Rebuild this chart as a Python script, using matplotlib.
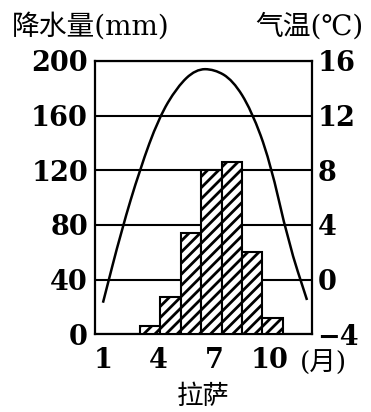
import numpy as np
import matplotlib.pyplot as plt
from matplotlib.path import Path
from matplotlib.patches import PathPatch

plt.rcParams['font.family'] = ['DejaVu Serif', 'Noto Sans CJK SC']
plt.rcParams['hatch.linewidth'] = 2.0

# 拉萨 气温 (℃), 1-12月
months = [1, 2, 3, 4, 5, 6, 7, 8, 9, 10, 11, 12]
temp = [-1.7, 3.6, 8.1, 11.8, 14.1, 15.4, 15.4, 14.6, 12.4, 8.7, 2.7, -1.5]

# 降水量 (mm)
bar_months = [4, 5, 6, 7, 8, 9, 10]
rain = [6, 27, 74, 120, 126, 60, 12]

rain_ticks = [0, 40, 80, 120, 160, 200]
temp_ticks = [-4, 0, 4, 8, 12, 16]
x_ticks = [1, 4, 7, 10]

fig = plt.figure(figsize=(3.71, 4.12), dpi=100)
pos = [0.256, 0.189, 0.585, 0.663]

# bars + left axis
ax = fig.add_axes(pos)
ax.bar(bar_months, rain, width=1.0, color='white', edgecolor='black',
       hatch='///', linewidth=1.5, zorder=3)
ax.set_xlim(1.29, 11.93)
ax.set_ylim(0, 200)
ax.set_yticks(rain_ticks)
ax.set_xticks([])
ax.yaxis.grid(True, color='black', linewidth=1.5)
ax.tick_params(axis='y', length=0, pad=5, labelsize=19.5)
for s in ax.spines.values():
    s.set_linewidth(1.6)

# temperature curve + right axis
axt = fig.add_axes(pos, frameon=False)
axt.set_xlim(0.57, 12.27)
axt.set_ylim(-4, 16)
axt.yaxis.tick_right()
axt.set_yticks(temp_ticks)
axt.set_xticks(x_ticks)
axt.tick_params(axis='y', length=0, pad=4, labelsize=19.5)
axt.tick_params(axis='x', length=0, pad=9, labelsize=19.5)

for lab in ax.get_yticklabels() + axt.get_yticklabels() + axt.get_xticklabels():
    lab.set_fontweight('bold')

pts = np.column_stack([months, temp])
verts = [pts[0], (pts[0] + pts[1]) / 2]
codes = [Path.MOVETO, Path.LINETO]
for i in range(1, len(pts) - 1):
    verts += [pts[i], (pts[i] + pts[i + 1]) / 2]
    codes += [Path.CURVE3, Path.CURVE3]
verts.append(pts[-1])
codes.append(Path.LINETO)
axt.add_patch(PathPatch(Path(verts, codes), facecolor='none',
                        edgecolor='black', linewidth=1.8))

fig.text(12 / 371, 1 - 27 / 412, '降水量(mm)', ha='left', va='center', fontsize=20)
fig.text(364 / 371, 1 - 27 / 412, '气温(℃)', ha='right', va='center', fontsize=20)
fig.text(300 / 371, 1 - 363 / 412, '(月)', ha='left', va='center', fontsize=19)
fig.text(203 / 371, 1 - 396 / 412, '拉萨', ha='center', va='center', fontsize=19)

fig.savefig('out.png', dpi=100)
